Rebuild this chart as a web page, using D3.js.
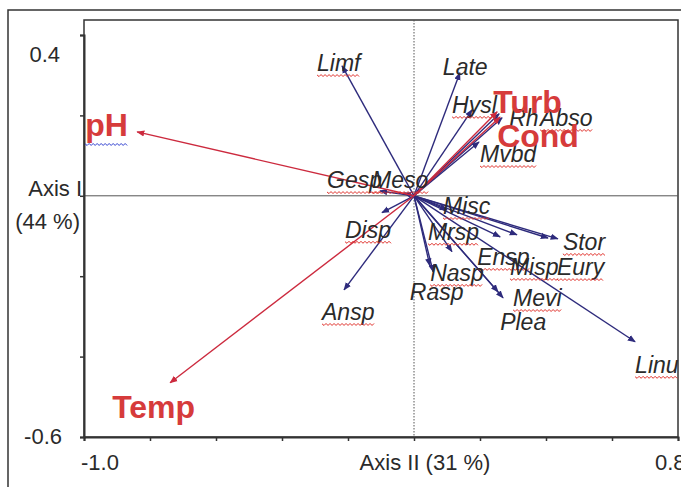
<!DOCTYPE html>
<html><head><meta charset="utf-8">
<script src="https://cdn.jsdelivr.net/npm/d3@7"></script>
<style>
html,body{margin:0;padding:0;background:#fff;}
svg{display:block;font-family:"Liberation Sans",Arial,sans-serif;}
</style></head>
<body>
<svg id="c" width="681" height="487"></svg>
<script>
// ---- data ----
const species = ["Limf","Late","Hysl","Rh","Abso","Mvbd","Gesp","Meso","Misc","Mrsp","Stor","Ensp","Misp","Eury","Nasp","Rasp","Mevi","Plea","Linu","Disp","Ansp"];
const speciesX = [-0.218,0.139,0.176,0.258,0.267,0.197,-0.103,-0.030,0.100,0.115,0.436,0.261,0.312,0.406,0.058,0.048,0.270,0.255,0.670,-0.097,-0.212];
const speciesY = [0.323,0.306,0.214,0.204,0.194,0.134,0.012,0.007,-0.035,-0.139,-0.107,-0.102,-0.097,-0.105,-0.189,-0.174,-0.254,-0.239,-0.363,-0.042,-0.234];
const envVars = ["pH","Temp","Turb","Cond"];
const envX = [-0.839,-0.739,0.252,0.261];
const envY = [0.159,-0.465,0.209,0.196];
const xTicks = [-1.0,-0.8,-0.6,-0.4,-0.2,0,0.2,0.4,0.6,0.8];
const yTicks = [-0.6,-0.4,-0.2,0,0.2,0.4];
const xTickLabels = ["-1.0","0.8"];
const yTickLabels = ["0.4","-0.6"];
const xTitle = "Axis II (31 %)";
const yTitle = ["Axis I","(44 %)"];

// ---- layout (pixel offsets of labels from arrow tips) ----
const spOff = {Limf:[-25,5,1],Late:[-17,2,0],Hysl:[-20,3,1],Rh:[10,12,0],Abso:[38,8,1],Mvbd:[1,20,1],
  Gesp:[-53,-3,1],Meso:[-32,-5,1],Misc:[-4,4,1],Mrsp:[-24,-12,1],Stor:[5,11,1],Ensp:[-23,28,1],
  Misp:[-7,40,1],Eury:[9,37,1],Nasp:[-3,9,1],Rasp:[-20,34,0],Mevi:[10,8,1],Plea:[2,38,0],
  Linu:[0,31,1],Disp:[-37,25,1],Ansp:[-22,30,1]};
const envOff = {pH:[-52,4],Temp:[-58,35],Turb:[-4,1],Cond:[-3,30]};

const svg = d3.select("#c");
const x = d3.scaleLinear().domain([-1.0,0.8]).range([84,678]);
const y = d3.scaleLinear().domain([-0.6,0.4]).range([437,35]);
const plotTop = 20;
const ink = "#333";
const spColor = "#2e2b7c", envColor = "#cc2a3e", envText = "#d63b3b";

// outer frame
svg.append("rect").attr("x",8).attr("y",10).attr("width",700).attr("height",500)
  .attr("fill","none").attr("stroke",ink).attr("stroke-width",1.5);
// plot box
svg.append("rect").attr("x",x(-1.0)).attr("y",plotTop).attr("width",x(0.8)-x(-1.0)).attr("height",y(-0.6)-plotTop)
  .attr("fill","none").attr("stroke",ink).attr("stroke-width",1.5);

// zero lines
svg.append("line").attr("x1",x(-1.0)).attr("x2",x(0.8)).attr("y1",y(0)).attr("y2",y(0))
  .attr("stroke","#555").attr("stroke-width",1);
svg.append("line").attr("x1",x(0)).attr("x2",x(0)).attr("y1",plotTop).attr("y2",y(-0.6))
  .attr("stroke","#555").attr("stroke-width",1).attr("stroke-dasharray","1.5,1.5");

// axes
const gx = svg.append("g").attr("transform",`translate(0,${y(-0.6)})`)
  .call(d3.axisBottom(x).tickValues(xTicks).tickSize(4).tickFormat(""));
const gy = svg.append("g").attr("transform",`translate(${x(-1.0)},0)`)
  .call(d3.axisLeft(y).tickValues(yTicks).tickSize(4).tickFormat(""));
[gx,gy].forEach(g=>{g.select(".domain").attr("stroke",ink).attr("stroke-width",2);
  g.selectAll(".tick line").attr("stroke",ink).attr("stroke-width",1.5);});

const tf = {"font-size":"22px",fill:"#2a2a2a"};
function txt(t,xx,yy,anchor,attrs){const e=svg.append("text").attr("x",xx).attr("y",yy).attr("text-anchor",anchor||"start").text(t);
  Object.entries(attrs||tf).forEach(([k,v])=>e.style(k,v));return e;}
txt(xTickLabels[0],x(-1.0)+16,470,"middle");
txt(xTickLabels[1],x(0.8)-23,470,"start");
txt(xTitle,x(0)+11,470,"middle");
txt(yTickLabels[0],60,y(0.4)+27,"end");
txt(yTickLabels[1],62,y(-0.6)+7,"end");
txt(yTitle[0],82,y(0),"end");
txt(yTitle[1],80,y(0)+33,"end");

// arrow markers
const defs = svg.append("defs");
function marker(id,color){defs.append("marker").attr("id",id).attr("viewBox","0 -5 10 10").attr("refX",9).attr("refY",0)
  .attr("markerWidth",8).attr("markerHeight",8).attr("markerUnits","userSpaceOnUse").attr("orient","auto")
  .append("path").attr("d","M0,-4L10,0L0,4Z").attr("fill",color);}
marker("ms",spColor); marker("me",envColor);

function squiggle(x0,x1,yy,color){
  let d=`M${x0},${yy}`;let k=0;
  for(let xx=x0+2;xx<=x1;xx+=2){k++;d+=`L${xx},${yy+(k%2?1.6:-0.4)}`;}
  svg.append("path").attr("d",d).attr("fill","none").attr("stroke",color).attr("stroke-width",1);
}

// species arrows
species.forEach((s,i)=>{
  svg.append("line").attr("x1",x(0)).attr("y1",y(0)).attr("x2",x(speciesX[i])).attr("y2",y(speciesY[i]))
    .attr("stroke",spColor).attr("stroke-width",1.4).attr("marker-end","url(#ms)");
});
// env arrows
envVars.forEach((s,i)=>{
  svg.append("line").attr("x1",x(0)).attr("y1",y(0)).attr("x2",x(envX[i])).attr("y2",y(envY[i]))
    .attr("stroke",envColor).attr("stroke-width",1.4).attr("marker-end","url(#me)");
});
// species labels
species.forEach((s,i)=>{
  const o=spOff[s];const lx=x(speciesX[i])+o[0], ly=y(speciesY[i])+o[1];
  const t=txt(s,lx,ly,"start",{"font-size":"23px","font-style":"italic",fill:"#2a2a2a"});
  if(o[2]){const w=t.node().getComputedTextLength();squiggle(lx,lx+w,ly+4,"#e0302a");}
});
// env labels
envVars.forEach((s,i)=>{
  const o=envOff[s];const lx=x(envX[i])+o[0], ly=y(envY[i])+o[1];
  const t=txt(s,lx,ly,"start",{"font-size":"32px","font-weight":"bold",fill:envText});
  if(s==="pH"){const w=t.node().getComputedTextLength();squiggle(lx,lx+w,ly+8,"#2f3fd0");}
});
</script>
</body></html>
